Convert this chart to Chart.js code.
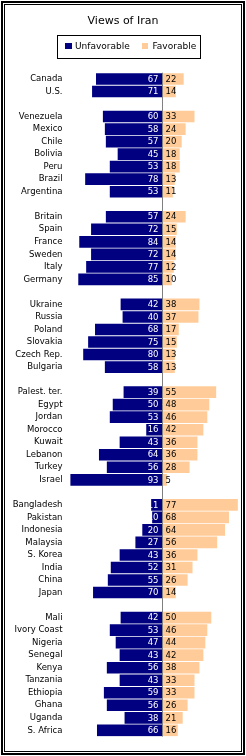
<!DOCTYPE html>
<html>
<head>
<meta charset="utf-8">
<script src="https://cdn.jsdelivr.net/npm/chart.js@4/dist/chart.umd.min.js"></script>
<style>
html,body{margin:0;padding:0;background:#fff;}
canvas{display:block;}
</style>
</head>
<body>
<canvas id="c" width="246" height="756"></canvas>
<script>
const countries = ['Canada','U.S.','',
 'Venezuela','Mexico','Chile','Bolivia','Peru','Brazil','Argentina','',
 'Britain','Spain','France','Sweden','Italy','Germany','',
 'Ukraine','Russia','Poland','Slovakia','Czech Rep.','Bulgaria','',
 'Palest. ter.','Egypt','Jordan','Morocco','Kuwait','Lebanon','Turkey','Israel','',
 'Bangladesh','Pakistan','Indonesia','Malaysia','S. Korea','India','China','Japan','',
 'Mali','Ivory Coast','Nigeria','Senegal','Kenya','Tanzania','Ethiopia','Ghana','Uganda','S. Africa'];
const unfavorable = [67,71,null,
 60,58,57,45,53,78,53,null,
 57,72,84,72,77,85,null,
 42,40,68,75,80,58,null,
 39,50,53,16,43,64,56,93,null,
 11,10,20,27,43,52,55,70,null,
 42,53,47,43,56,43,59,56,38,66];
const favorable = [22,14,null,
 33,24,20,18,18,13,11,null,
 24,15,14,14,12,10,null,
 38,37,17,15,13,13,null,
 55,48,46,42,36,36,28,5,null,
 77,68,64,56,36,31,26,14,null,
 50,46,44,42,38,33,33,26,21,16];
const seriesNames = ['Unfavorable','Favorable'];
const titleText = 'Views of Iran';

const BLUE = '#000080', PEACH = '#FFCC99';
const FONT = '"DejaVu Sans", Verdana, sans-serif';

const decor = {
  id: 'decor',
  afterDraw(chart) {
    const ctx = chart.ctx;
    ctx.save();
    // frame
    ctx.strokeStyle = '#000';
    ctx.lineWidth = 2;
    ctx.strokeRect(2, 2, 242, 752);
    ctx.lineWidth = 1;
    ctx.strokeRect(4.5, 4.5, 237, 747);
    // title
    ctx.fillStyle = '#000';
    ctx.font = '11px ' + FONT;
    ctx.textAlign = 'center';
    ctx.textBaseline = 'middle';
    ctx.fillText(titleText, 123, 21);
    // legend
    ctx.strokeRect(57.5, 35.5, 143, 23);
    ctx.fillStyle = BLUE;
    ctx.fillRect(65, 43, 7, 6);
    ctx.fillStyle = PEACH;
    ctx.fillRect(142, 43, 6, 6);
    ctx.fillStyle = '#000';
    ctx.font = '9px ' + FONT;
    ctx.textAlign = 'left';
    ctx.fillText(seriesNames[0], 75, 46.5);
    ctx.fillText(seriesNames[1], 152.5, 46.5);
    // zero line
    const xs = chart.scales.x, a = chart.chartArea;
    const x0 = Math.round(xs.getPixelForValue(0)) + 0.5;
    ctx.strokeStyle = '#808080';
    ctx.beginPath();
    ctx.moveTo(x0, a.top);
    ctx.lineTo(x0, a.bottom);
    ctx.stroke();
    // value labels
    ctx.font = '8.5px ' + FONT;
    chart.data.datasets.forEach((ds, di) => {
      const meta = chart.getDatasetMeta(di);
      meta.data.forEach((el, i) => {
        const v = ds.data[i];
        if (v === null || v === undefined) return;
        const val = Math.abs(v);
        if (di === 0) {
          ctx.fillStyle = '#fff';
          ctx.textAlign = 'right';
          ctx.fillText(String(val), x0 - 4, el.y + 0.5);
        } else {
          ctx.fillStyle = '#000';
          ctx.textAlign = 'left';
          ctx.fillText(String(val), x0 + 3, el.y + 0.5);
        }
      });
    });
    ctx.restore();
  }
};

new Chart(document.getElementById('c'), {
  type: 'bar',
  data: {
    labels: countries,
    datasets: [
      { label: seriesNames[0], data: unfavorable.map(v => v === null ? null : -v), backgroundColor: BLUE, borderWidth: 0, barPercentage: 0.93, categoryPercentage: 1 },
      { label: seriesNames[1], data: favorable, backgroundColor: PEACH, borderWidth: 0, barPercentage: 0.93, categoryPercentage: 1 }
    ]
  },
  options: {
    indexAxis: 'y',
    responsive: false,
    animation: false,
    layout: { padding: { left: 0, right: 5.2, top: 72.7, bottom: 19.4 } },
    plugins: { legend: { display: false }, title: { display: false }, tooltip: { enabled: false } },
    scales: {
      x: { stacked: true, min: -100, max: 80, display: false },
      y: {
        stacked: true,
        grid: { display: false, drawTicks: false },
        border: { display: false },
        ticks: { autoSkip: false, padding: 1, color: '#000', font: { family: FONT, size: 8.5 } },
        afterFit(scale) { scale.width = 63.5; }
      }
    }
  },
  plugins: [decor]
});
</script>
</body>
</html>
